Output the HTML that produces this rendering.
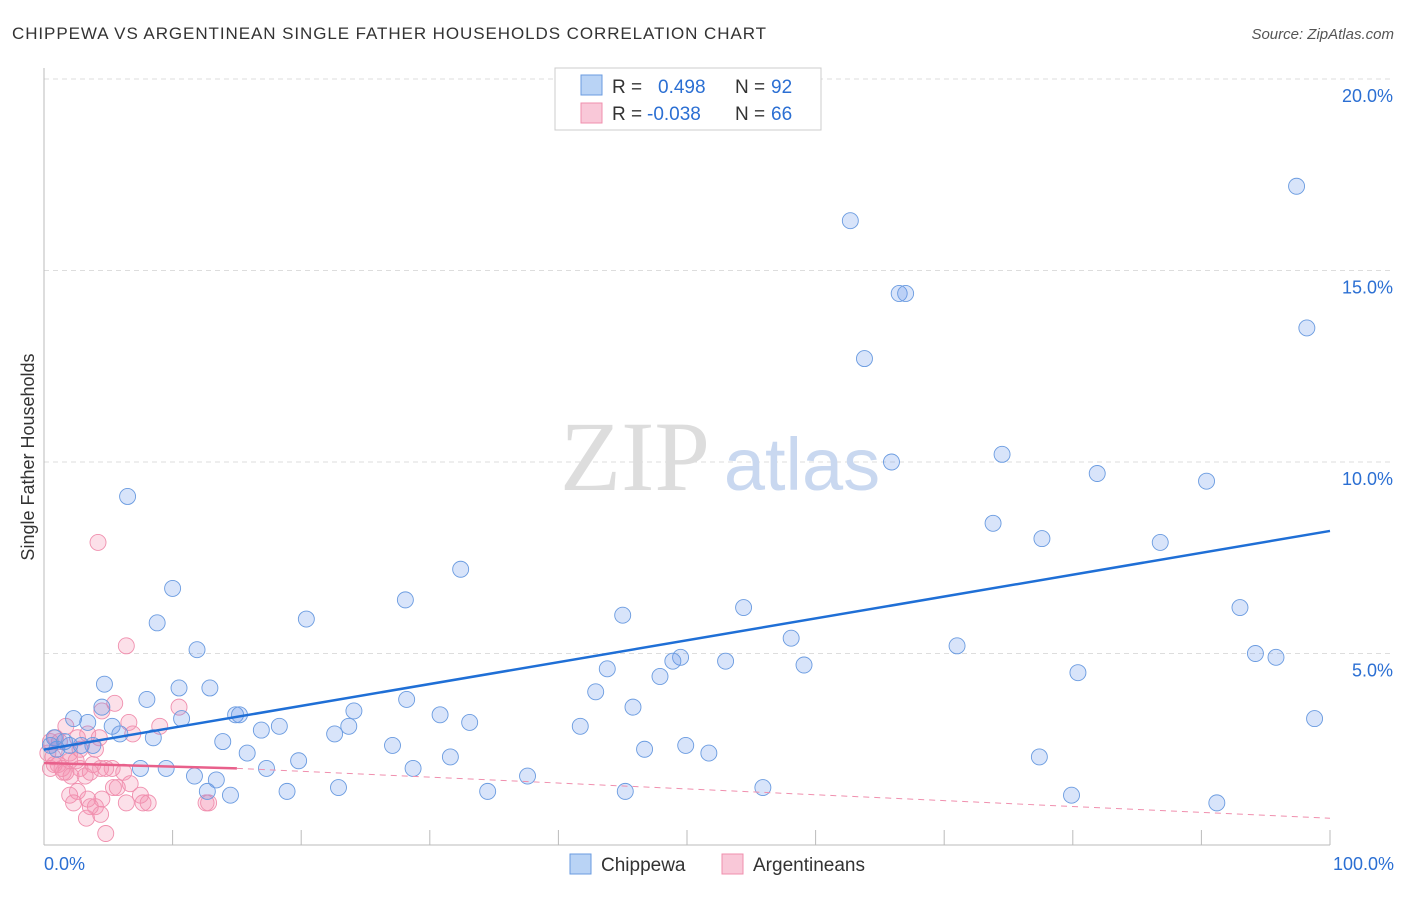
<!DOCTYPE html>
<html><head><meta charset="utf-8"><style>
body{margin:0;background:#fff;font-family:"Liberation Sans",sans-serif}
svg text{font-family:"Liberation Sans",sans-serif}
</style></head><body>
<svg id="chart" width="1406" height="892" viewBox="0 0 1406 892">
<text x="12" y="39" font-size="17" fill="#333" textLength="754">CHIPPEWA VS ARGENTINEAN SINGLE FATHER HOUSEHOLDS CORRELATION CHART</text>
<text x="1394" y="39" font-size="15" fill="#555" text-anchor="end" font-style="italic">Source: ZipAtlas.com</text>
<text x="0" y="0" transform="translate(34,457) rotate(-90)" font-size="18" fill="#333" text-anchor="middle">Single Father Households</text>
<g id="grid"></g>
<g id="axes"></g>
<text x="635" y="490" font-size="100" fill="#ddd" text-anchor="middle" style="font-family:'Liberation Serif',serif">ZIP</text>
<text x="802" y="490" font-size="74" fill="#c9d8f0" text-anchor="middle">atlas</text>
<g id="pts"></g>
<g id="lines"></g>
<g>
<rect x="555" y="68" width="266" height="62" fill="#fff" stroke="#ccc"/>
<rect x="581" y="75" width="21" height="20" fill="#b9d3f5" stroke="#6a9be0"/>
<rect x="581" y="103" width="21" height="20" fill="#f9c8d8" stroke="#f08fae"/>
<text x="612" y="93" font-size="19" fill="#333">R = </text><text x="658" y="93" font-size="19" fill="#2b6fd3">0.498</text>
<text x="735" y="93" font-size="19" fill="#333">N = </text><text x="771" y="93" font-size="19" fill="#2b6fd3">92</text>
<text x="612" y="120" font-size="19" fill="#333">R = </text><text x="647" y="120" font-size="19" fill="#2b6fd3">-0.038</text>
<text x="735" y="120" font-size="19" fill="#333">N = </text><text x="771" y="120" font-size="19" fill="#2b6fd3">66</text>
</g>
<g>
<rect x="570" y="854" width="21" height="20" fill="#b9d3f5" stroke="#6a9be0"/>
<text x="601" y="871" font-size="19" fill="#333">Chippewa</text>
<rect x="722" y="854" width="21" height="20" fill="#f9c8d8" stroke="#f08fae"/>
<text x="753" y="871" font-size="19" fill="#333">Argentineans</text>
</g>
<text x="44" y="870" font-size="18" fill="#2b6fd3">0.0%</text>
<text x="1394" y="870" font-size="18" fill="#2b6fd3" text-anchor="end">100.0%</text>
</svg>
<script>
const yTicks=[5,10,15,20];
const yTickLabels=["5.0%","10.0%","15.0%","20.0%"];
const xTicks=[10,20,30,40,50,60,70,80,90,100];
const blueX=[62.7,97.4,66.5,67,98.2,63.8,65.9,74.5,81.9,90.4,6.5,73.8,77.6,86.8,32.4,10,28.1,45,54.4,93,20.4,8.8,11.9,71,58.1,94.2,95.8,49.5,48.9,53,59.1,43.8,80.4,47.9,4.7,10.5,12.9,42.9,8,28.2,4.5,45.8,24.1,14.9,15.2,10.7,30.8,33.1,2.3,3.4,98.8,5.3,18.3,16.9,23.7,41.7,5.9,8.5,22.6,0.8,1.6,2.9,27.1,3.8,13.9,46.7,49.9,51.7,15.8,31.6,77.4,19.8,7.5,9.5,17.3,28.7,37.6,11.7,13.4,12.7,18.9,22.9,34.5,55.9,45.2,14.5,79.9,91.2,1,0.5,2];
const blueY=[16.3,17.2,14.4,14.4,13.5,12.7,10,10.2,9.7,9.5,9.1,8.4,8,7.9,7.2,6.7,6.4,6,6.2,6.2,5.9,5.8,5.1,5.2,5.4,5,4.9,4.9,4.8,4.8,4.7,4.6,4.5,4.4,4.2,4.1,4.1,4.0,3.8,3.8,3.6,3.6,3.5,3.4,3.4,3.3,3.4,3.2,3.3,3.2,3.3,3.1,3.1,3,3.1,3.1,2.9,2.8,2.9,2.8,2.7,2.6,2.6,2.6,2.7,2.5,2.6,2.4,2.4,2.3,2.3,2.2,2,2,2,2,1.8,1.8,1.7,1.4,1.4,1.5,1.4,1.5,1.4,1.3,1.3,1.1,2.5,2.6,2.6];
const pinkX=[4.2,6.4,10.5,5.5,4.5,9,6.6,1.7,3.4,6.9,0.9,1.2,2.6,4.3,0.5,0.3,0.7,1.1,2,2.5,1.4,0.5,0.8,1.7,2.8,3.8,4.4,3.6,5.3,6.2,2.1,3.2,4.8,1.5,6.7,5.7,2.6,2,3.4,4.5,7.7,6.4,8.1,12.8,12.6,2.3,4,3.6,3.3,4.4,4.8,7.5,5.4,2,2.8,4];
const pinkY=[7.9,5.2,3.6,3.7,3.5,3.1,3.2,3.1,2.9,2.9,2.8,2.7,2.8,2.8,2.7,2.4,2.3,2.1,2.2,2.2,2,2,2.1,1.9,2,2.1,2,1.9,2,1.9,1.8,1.8,2,1.9,1.6,1.5,1.4,1.3,1.2,1.2,1.1,1.1,1.1,1.1,1.1,1.1,1,1,0.7,0.8,0.3,1.3,1.5,2.4,2.5,2.5];
const blueTrend=[2.49,8.2];
const pinkTrend=[2.14,2.0,0.7];
const pinkSolidEnd=15;
const X=v=>44+v*12.86;
const Y=v=>845-v*38.3;
const NS="http://www.w3.org/2000/svg";
function mk(tag,parent,attrs){const e=document.createElementNS(NS,tag);for(const k in attrs)e.setAttribute(k,attrs[k]);parent.appendChild(e);return e;}
const grid=document.getElementById('grid'),axes=document.getElementById('axes'),pts=document.getElementById('pts'),lines=document.getElementById('lines');
yTicks.forEach((t,i)=>{
  const l=mk('line',grid,{x1:44,x2:1394,y1:Y(t),y2:Y(t),stroke:'#ddd','stroke-dasharray':'5,4'});
  
  
  const tx=mk('text',grid,{x:1393,y:Y(t)+23,'font-size':18,fill:'#2b6fd3','text-anchor':'end'});
  tx.textContent=yTickLabels[i];
  
  
});
mk('line',axes,{x1:44,x2:44,y1:68,y2:845,stroke:'#bbb'});
mk('line',axes,{x1:44,x2:1330,y1:845,y2:845,stroke:'#bbb'});
xTicks.forEach(t=>{
  const l=mk('line',axes,{x1:X(t),x2:X(t),y1:830,y2:845,stroke:'#bbb'});
  
  
});
pinkX.forEach((x,i)=>{
  const c=mk('circle',pts,{cx:X(x),cy:Y(pinkY[i]),r:8,fill:'rgba(244,143,177,0.28)',stroke:'#f08fae','stroke-width':0.9});
  
  
});
blueX.forEach((x,i)=>{
  const c=mk('circle',pts,{cx:X(x),cy:Y(blueY[i]),r:8,fill:'rgba(100,149,237,0.25)',stroke:'#6a9be0','stroke-width':0.9});
  
  
});
const bl=mk('line',lines,{x1:X(0),y1:Y(blueTrend[0]),x2:X(100),y2:Y(blueTrend[1]),stroke:'#1f6fd6','stroke-width':2.5});


const ps=mk('line',lines,{x1:X(0),y1:Y(pinkTrend[0]),x2:X(pinkSolidEnd),y2:Y(pinkTrend[1]),stroke:'#e8608b','stroke-width':2.5});


const pd=mk('line',lines,{x1:X(pinkSolidEnd),y1:Y(pinkTrend[1]),x2:X(100),y2:Y(pinkTrend[2]),stroke:'#f08fae','stroke-width':1,'stroke-dasharray':'6,5'});


</script>
</body></html>
